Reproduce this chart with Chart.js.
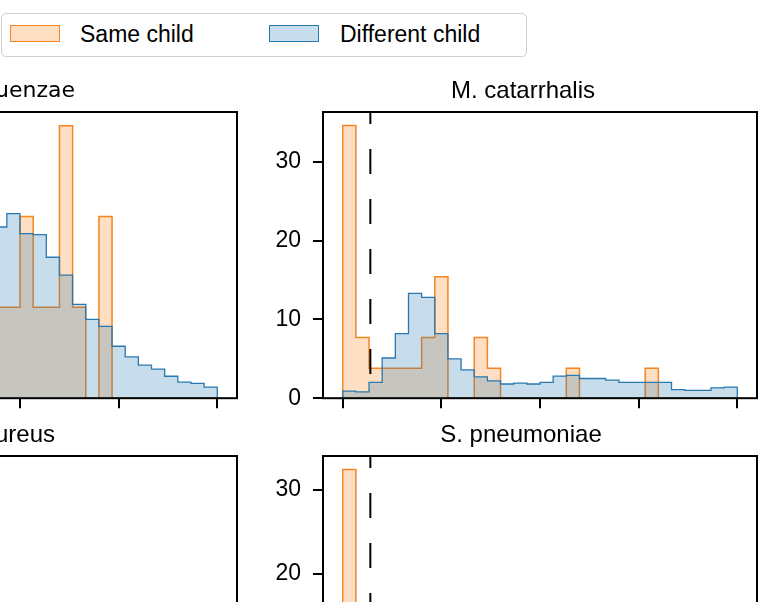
<!DOCTYPE html>
<html>
<head>
<meta charset="utf-8">
<script src="https://cdn.jsdelivr.net/npm/chart.js@4.4.0/dist/chart.umd.min.js"></script>
<style>
  html, body { margin: 0; padding: 0; background: #fff; }
  #fig { position: relative; width: 771px; height: 602px; overflow: hidden; background: #fff; }
  #fig canvas { position: absolute; }
  #legend { position: absolute; left: 1px; top: 13px; width: 526px; height: 44px; box-sizing: border-box;
            border: 1px solid #d0d0d0; border-radius: 5px; background: #fff;
            font-family: "Liberation Sans", Arial, sans-serif; font-size: 23px; color: #000; z-index: 5; }
  .lg-patch { position: absolute; width: 50px; height: 17px; box-sizing: border-box; border: 1px solid; }
  .lg-text { position: absolute; line-height: 23px; white-space: nowrap; }
</style>
</head>
<body>
<div id="fig"><div id="legend"></div></div>
<script>
// ---------------- data ----------------
const seriesLabels = ['Same child', 'Different child'];
const binTicks = [0, 7.5, 15, 22.5, 30];   // x tick positions (bin units, labels hidden)
const thresholdBin = 2.1;                  // dashed vertical line

// H. influenzae (bins 0-12 are outside the visible crop, estimated)
const hinfSame = [3.85, 0, 3.85, 0, 3.85, 7.69, 0, 3.85, 3.85, 0, 7.69, 3.85, 3.85,
                  3.85, 3.85, 7.69, 3.85, 3.85, 11.54, 3.85, 0, 7.69, 0, 0, 0, 0, 0, 0, 0, 0];
const hinfDiff = [0.8, 1.5, 1.2, 2.4, 2.1, 3.5, 3.1, 4.6, 4.2, 5.8, 5.3, 6.4, 7.0,
                  7.25, 7.82, 6.97, 6.93, 5.97, 5.21, 3.97, 3.34, 3.04, 2.20, 1.75, 1.40, 1.23, 0.93, 0.68, 0.63, 0.47];
const hinfYTicks = [0, 5, 10];
const hinfYMax = 12.12;

// M. catarrhalis
const mcatSame = [34.6, 7.7, 3.8, 3.8, 3.8, 3.8, 7.7, 15.4, 0, 0, 7.7, 3.8, 0, 0, 0,
                  0, 0, 3.8, 0, 0, 0, 0, 0, 3.8, 0, 0, 0, 0, 0, 0];
const mcatDiff = [0.9, 0.8, 2.0, 5.1, 8.2, 13.3, 12.8, 8.2, 5.0, 3.6, 2.7, 2.2, 1.8, 1.9, 1.8,
                  2.0, 2.8, 2.9, 2.5, 2.5, 2.3, 2.0, 2.0, 2.0, 2.0, 1.1, 1.0, 1.0, 1.3, 1.4];
const mcatYTicks = [0, 10, 20, 30];
const mcatYMax = 36.3;

// S. aureus (outside the visible crop, estimated)
const saurSame = [30.0, 5.0, 0, 5.0, 0, 5.0, 5.0, 10.0, 0, 5.0, 0, 5.0, 0, 0, 5.0,
                  0, 0, 0, 5.0, 0, 0, 0, 0, 5.0, 0, 0, 0, 0, 0, 0];
const saurDiff = [1.2, 1.5, 2.6, 5.2, 8.4, 12.1, 11.6, 8.0, 5.1, 3.7, 2.9, 2.4, 2.1, 2.2, 2.0,
                  2.3, 2.7, 2.9, 2.6, 2.4, 2.2, 2.0, 1.9, 1.8, 1.7, 1.2, 1.0, 0.9, 1.1, 1.2];
const saurYTicks = [0, 10, 20, 30];
const saurYMax = 31.5;

// S. pneumoniae (only the first bar is inside the crop; the rest estimated)
const spnSame = [32.4, 5.9, 2.9, 2.9, 0, 2.9, 5.9, 8.8, 2.9, 0, 2.9, 0, 0, 2.9, 0,
                 0, 2.9, 0, 0, 0, 2.9, 0, 0, 0, 2.9, 0, 0, 0, 0, 0];
const spnDiff = [0.8, 1.0, 2.1, 4.6, 7.9, 11.2, 10.6, 7.4, 4.8, 3.4, 2.6, 2.2, 2.0, 2.1, 1.9,
                 2.2, 2.6, 2.8, 2.6, 2.4, 2.2, 2.1, 2.0, 1.9, 1.8, 1.3, 1.1, 1.0, 1.2, 1.3];
const spnYTicks = [0, 10, 20, 30];
const spnYMax = 34.0;

// ---------------- styles / layout ----------------
const sameFill = 'rgba(255,127,14,0.25)', sameEdge = '#f5851f';
const diffFill = 'rgba(31,119,180,0.25)', diffEdge = '#2a78b0';
const FONT = '"Liberation Sans", Arial, sans-serif';
const TICK_SIZE = 23;
const AREA_W = 434, AREA_H = 286, YAX_W = 70, XAX_H = 14, PAD_TOP = 52, PAD_RIGHT = 14;

const panels = [
  { title: 'H. influenzae', same: hinfSame, diff: hinfDiff, yTicks: hinfYTicks, yMax: hinfYMax,
    left: -197, top: 112, tFont: '22px "DejaVu Sans"', tAlign: 'right', tX: 272, tDy: 15 },
  { title: 'M. catarrhalis', same: mcatSame, diff: mcatDiff, yTicks: mcatYTicks, yMax: mcatYMax,
    left: 323, top: 112, tFont: '24px ' + FONT, tAlign: 'center', tX: 200, tDy: 14 },
  { title: 'S. aureus', same: saurSame, diff: saurDiff, yTicks: saurYTicks, yMax: saurYMax,
    left: -197, top: 456, tFont: '24px ' + FONT, tAlign: 'right', tX: 252, tDy: 14 },
  { title: 'S. pneumoniae', same: spnSame, diff: spnDiff, yTicks: spnYTicks, yMax: spnYMax,
    left: 323, top: 456, tFont: '24px ' + FONT, tAlign: 'center', tX: 198, tDy: 14 }
];

// frame (spines) + panel title
const panelDecor = {
  id: 'panelDecor',
  afterDatasetsDraw(chart) {
    const { ctx, chartArea: a } = chart;
    ctx.save();
    ctx.strokeStyle = '#000';
    ctx.lineWidth = 2;
    ctx.strokeRect(a.left, a.top, a.right - a.left, a.bottom - a.top);
    ctx.restore();
  },
  afterDraw(chart, args, o) {
    const { ctx, chartArea: a } = chart;
    ctx.save();
    ctx.font = o.font;
    ctx.fillStyle = '#000';
    ctx.textAlign = o.align;
    ctx.textBaseline = 'alphabetic';
    ctx.fillText(o.text, a.left + o.x, a.top - o.dy);
    ctx.restore();
  }
};

function stepPoints(vals) {
  const pts = [{ x: 0, y: 0 }];
  vals.forEach((v, i) => pts.push({ x: i, y: v }));
  pts.push({ x: vals.length, y: 0 });
  return pts;
}

function makeConfig(P) {
  return {
    type: 'line',
    data: {
      datasets: [
        { label: seriesLabels[0], data: stepPoints(P.same), stepped: 'before', fill: 'origin',
          backgroundColor: sameFill, borderColor: sameEdge, borderWidth: 1.5, order: 2 },
        { label: seriesLabels[1], data: stepPoints(P.diff), stepped: 'before', fill: 'origin',
          backgroundColor: diffFill, borderColor: diffEdge, borderWidth: 1.3, order: 1 },
        { label: 'threshold', data: [{ x: thresholdBin, y: P.yMax }, { x: thresholdBin, y: 0 }],
          fill: false, borderColor: '#000', borderWidth: 2, borderDash: [25, 25], borderDashOffset: 13, order: 0 }
      ]
    },
    options: {
      responsive: false,
      maintainAspectRatio: false,
      animation: false,
      devicePixelRatio: 1,
      layout: { padding: { left: 0, top: PAD_TOP, right: PAD_RIGHT, bottom: 0 } },
      elements: { point: { radius: 0, hoverRadius: 0 }, line: { tension: 0 } },
      plugins: {
        legend: { display: false },
        tooltip: { enabled: false },
        panelDecor: { text: P.title, font: P.tFont, align: P.tAlign, x: P.tX, dy: P.tDy }
      },
      scales: {
        x: {
          type: 'linear', min: -1.5, max: 31.5,
          afterBuildTicks: s => { s.ticks = binTicks.map(v => ({ value: v })); },
          afterFit: s => { s.height = XAX_H; },
          ticks: { display: false },
          grid: { drawOnChartArea: false, drawTicks: true, tickLength: 10, color: '#000', lineWidth: 2 },
          border: { display: false }
        },
        y: {
          type: 'linear', min: 0, max: P.yMax,
          afterBuildTicks: s => { s.ticks = P.yTicks.map(v => ({ value: v })); },
          afterFit: s => { s.width = YAX_W; },
          ticks: { padding: 12, color: '#000', font: { family: FONT, size: TICK_SIZE, weight: 'normal' } },
          grid: { drawOnChartArea: false, drawTicks: true, tickLength: 10, color: '#000', lineWidth: 2 },
          border: { display: false }
        }
      }
    },
    plugins: [panelDecor]
  };
}

Chart.defaults.font.family = FONT;
Chart.defaults.font.size = TICK_SIZE;
Chart.defaults.color = '#000';
const fig = document.getElementById('fig');

function build(P, W, H) {
  const cv = document.createElement('canvas');
  cv.width = W; cv.height = H;
  cv.style.width = W + 'px'; cv.style.height = H + 'px';
  cv.style.left = '0px'; cv.style.top = '0px';
  fig.appendChild(cv);
  const chart = new Chart(cv, makeConfig(P));
  return { cv, chart };
}

panels.forEach(P => {
  let W = AREA_W + YAX_W + PAD_RIGHT, H = AREA_H + PAD_TOP + XAX_H;
  let { cv, chart } = build(P, W, H);
  for (let k = 0; k < 3; k++) {
    const ca = chart.chartArea;
    const dw = AREA_W - (ca.right - ca.left), dh = AREA_H - (ca.bottom - ca.top);
    if (Math.abs(dw) < 0.5 && Math.abs(dh) < 0.5) break;
    chart.destroy(); cv.remove();
    W += Math.round(dw); H += Math.round(dh);
    ({ cv, chart } = build(P, W, H));
  }
  cv.style.left = Math.round(P.left - chart.chartArea.left) + 'px';
  cv.style.top = Math.round(P.top - chart.chartArea.top) + 'px';
});

// HTML legend built from the series labels/colours
const legend = document.getElementById('legend');
[
  { label: seriesLabels[0], fill: sameFill, edge: sameEdge, px: 8, tx: 78 },
  { label: seriesLabels[1], fill: diffFill, edge: diffEdge, px: 267, tx: 338 }
].forEach(it => {
  const p = document.createElement('div');
  p.className = 'lg-patch';
  p.style.left = it.px + 'px'; p.style.top = '11px';
  p.style.background = it.fill; p.style.borderColor = it.edge;
  legend.appendChild(p);
  const t = document.createElement('div');
  t.className = 'lg-text';
  t.style.left = it.tx + 'px'; t.style.top = '9px';
  t.textContent = it.label;
  legend.appendChild(t);
});
</script>
</body>
</html>
